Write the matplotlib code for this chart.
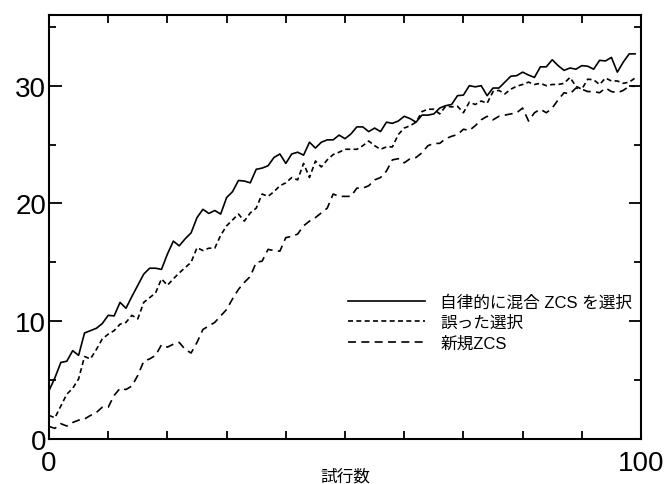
import matplotlib
matplotlib.use("Agg")
import matplotlib.pyplot as plt
from matplotlib.ticker import MultipleLocator, FixedLocator
import numpy as np

plt.rcParams["font.family"] = ["Liberation Sans", "Noto Sans CJK JP"]

# trial index 0..99
trials = np.arange(100)

# 自律的に混合 ZCS を選択
mixed = [4.1, 5.2, 6.5, 6.6, 7.5, 7.1, 9.0, 9.2, 9.4, 9.8,
         10.5, 10.45, 11.6, 11.1, 12.1, 13.05, 14.0, 14.5, 14.5, 14.4,
         15.7, 16.8, 16.4, 17.0, 17.5, 18.8, 19.5, 19.15, 19.4, 19.1,
         20.5, 21.0, 21.95, 21.9, 21.75, 22.9, 23.0, 23.2, 23.9, 24.2,
         23.4, 24.2, 24.35, 24.1, 25.2, 24.7, 25.2, 25.4, 25.4, 25.8,
         25.5, 25.9, 26.5, 26.5, 26.1, 26.4, 26.1, 26.9, 26.8, 27.0,
         27.4, 27.2, 26.9, 27.5, 27.5, 27.6, 28.1, 28.3, 28.4, 29.15,
         29.2, 30.0, 29.9, 30.0, 29.15, 29.8, 29.8, 30.3, 30.8, 30.85,
         31.15, 30.9, 30.7, 31.6, 31.6, 32.2, 31.7, 31.3, 31.5, 31.4,
         31.7, 31.65, 31.4, 32.15, 32.1, 32.4, 31.15, 32.0, 32.7, 32.7]

# 誤った選択
wrong = [2.0, 1.8, 2.8, 3.8, 4.3, 5.1, 7.0, 6.8, 7.6, 8.5,
         8.9, 9.2, 9.75, 9.9, 10.5, 10.2, 11.6, 12.0, 12.4, 13.6,
         13.05, 13.6, 14.1, 14.55, 15.0, 16.25, 16.0, 16.2, 16.2, 17.3,
         18.1, 18.6, 19.1, 18.5, 19.2, 19.6, 20.8, 20.6, 21.0, 21.5,
         21.75, 22.2, 22.0, 23.4, 22.2, 23.6, 23.1, 23.7, 24.15, 24.35,
         24.6, 24.6, 24.6, 24.9, 25.3, 24.9, 24.6, 24.8, 24.8, 25.85,
         26.4, 26.6, 26.9, 27.8, 28.0, 28.0, 27.6, 28.25, 28.2, 28.25,
         27.7, 28.6, 28.4, 28.7, 28.5, 29.5, 29.6, 29.3, 29.7, 29.95,
         30.1, 30.3, 30.1, 30.2, 30.0, 30.1, 30.1, 30.2, 30.7, 29.95,
         29.7, 30.55, 30.5, 30.1, 30.65, 30.4, 30.4, 30.2, 30.3, 30.65]

# 新規ZCS
new_zcs = [1.07, 0.9, 1.3, 1.1, 1.4, 1.6, 1.7, 2.0, 2.25, 2.7,
           2.7, 3.7, 4.3, 4.2, 4.5, 5.4, 6.6, 6.8, 7.1, 8.0,
           7.8, 8.05, 8.2, 7.6, 7.3, 8.2, 9.3, 9.6, 9.9, 10.45,
           11.0, 11.9, 12.7, 13.3, 13.8, 15.0, 15.1, 16.1, 16.0, 15.95,
           17.1, 17.2, 17.4, 18.1, 18.5, 18.8, 19.2, 19.6, 20.8, 20.6,
           20.6, 20.6, 21.3, 21.3, 21.5, 22.0, 22.2, 22.75, 23.7, 23.8,
           23.45, 23.8, 23.9, 24.3, 24.9, 25.1, 25.1, 25.5, 25.7, 25.85,
           26.3, 26.2, 26.6, 27.1, 27.4, 27.1, 27.4, 27.5, 27.6, 27.7,
           28.1, 27.0, 27.7, 28.0, 27.7, 28.1, 28.8, 29.4, 29.3, 29.8,
           29.7, 29.5, 29.5, 29.4, 29.8, 29.5, 29.4, 29.6, 29.95, 29.95]

labels = ["自律的に混合 ZCS を選択", "誤った選択", "新規ZCS"]

fig = plt.figure(figsize=(6.64, 4.85), dpi=100)
ax = fig.add_axes([0.0738, 0.0928, 0.8916, 0.8742])

lw = 1.2
ax.plot(trials, mixed, color="black", linewidth=lw, label=labels[0])
ax.plot(trials, wrong, color="black", linewidth=lw, dashes=(3.0, 2.0),
        label=labels[1])
ax.plot(trials, new_zcs, color="black", linewidth=lw, dashes=(4.8, 3.2),
        label=labels[2])

ax.set_xlim(0, 100)
ax.set_ylim(0, 36)
ax.xaxis.set_major_locator(FixedLocator([0, 100]))
ax.xaxis.set_minor_locator(MultipleLocator(10))
ax.yaxis.set_major_locator(MultipleLocator(10))
ax.yaxis.set_minor_locator(MultipleLocator(5))

ax.tick_params(which="both", direction="in", top=True, right=True,
               width=1.3, labelsize=20)
ax.tick_params(axis="y", which="major", length=9, pad=2)
ax.tick_params(axis="y", which="minor", length=5)
ax.tick_params(axis="x", which="both", length=6, pad=8)
for sp in ax.spines.values():
    sp.set_linewidth(1.5)

ax.set_xlabel("試行数", fontsize=12, labelpad=-6)

ax.legend(loc="upper left", bbox_to_anchor=(0.505, 0.342), frameon=False,
          fontsize=12, handlelength=4.6, handletextpad=0.95,
          labelspacing=0.33, borderpad=0, borderaxespad=0)

fig.savefig("out.png", dpi=100)
